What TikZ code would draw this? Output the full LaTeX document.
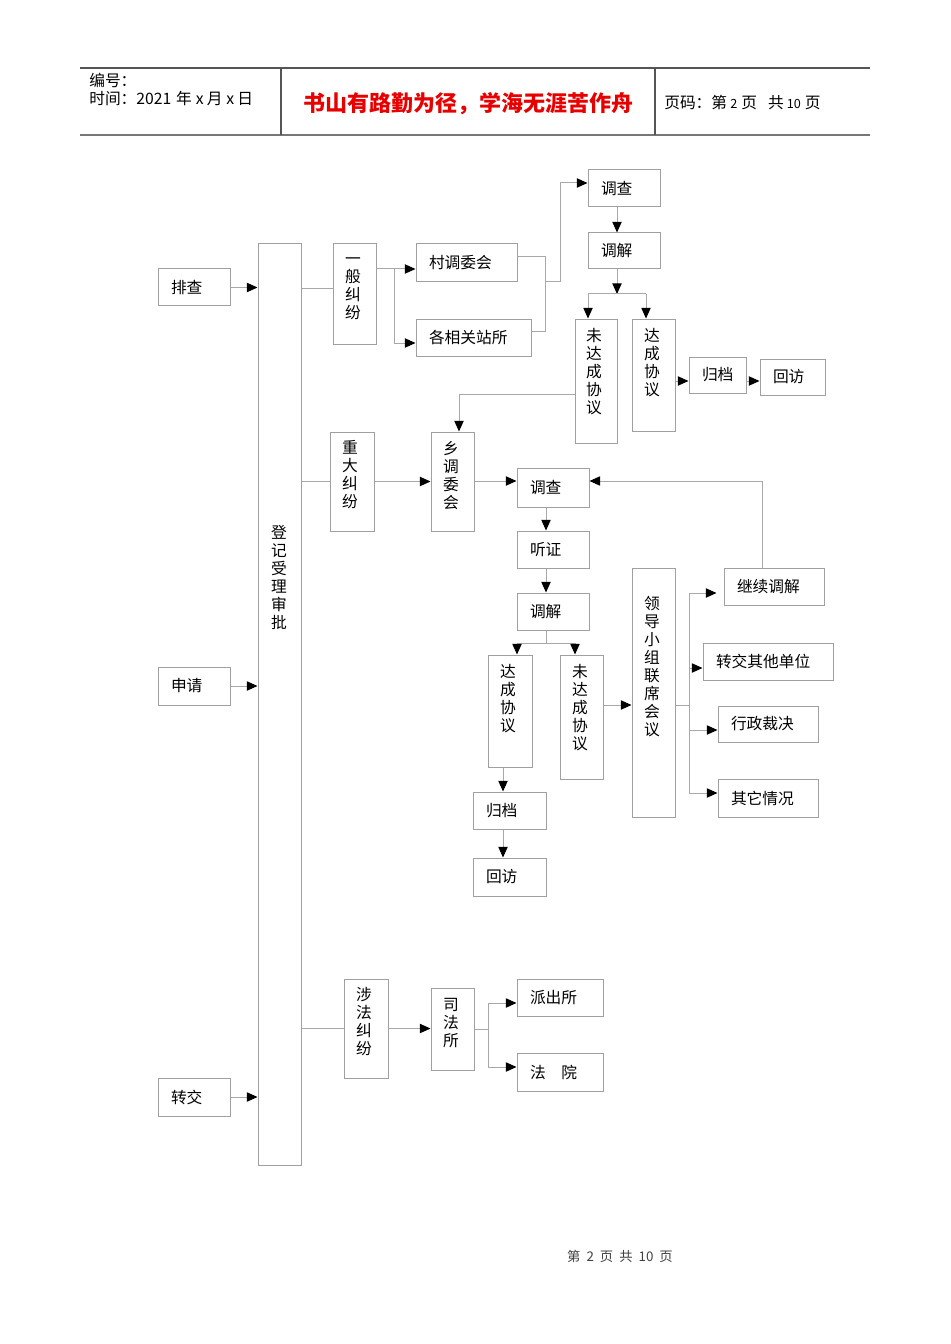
\documentclass[tikz,border=0pt]{standalone}
\usepackage{fontspec}
\setmainfont{Noto Sans CJK SC}
\usetikzlibrary{arrows.meta}
\definecolor{bxc}{HTML}{A0A0A0}
\definecolor{lnc}{HTML}{A8A8A8}
\definecolor{hdc}{HTML}{555555}
\definecolor{ttl}{HTML}{E60000}
\tikzset{
 bx/.style={draw=bxc, line width=0.75pt, inner xsep=9.75pt, inner ysep=0pt, align=left, font=\fontsize{11.8pt}{13.5pt}\selectfont},
 vb/.style={draw=bxc, line width=0.75pt, inner sep=0pt},
 vt/.style={inner sep=0pt, align=center, font=\fontsize{11.8pt}{13.5pt}\selectfont},
 ln/.style={draw=lnc, line width=0.75pt},
 arr/.style={ln, -{Triangle[length=8pt,width=7pt,color=black]}},
 hd/.style={inner sep=0pt, anchor=west, font=\fontsize{11.8pt}{13pt}\selectfont},
 hline/.style={draw=hdc, line width=1.1pt},
}
\newcommand\mkbox[6]{%
 \pgfmathsetmacro\bw{(#4-#2)*0.75}%
 \pgfmathsetmacro\bh{(#5-#3)*0.75}%
 \pgfmathsetmacro\tw{(#4-#2-26)*0.75}%
 \node[bx,minimum width=\bw pt,minimum height=\bh pt,text width=\tw pt] (#1) at ({(#2+#4)/2},{(#3+#5)/2}) {#6};}
\newcommand\mkvbox[5]{%
 \pgfmathsetmacro\bw{(#4-#2)*0.75}%
 \pgfmathsetmacro\bh{(#5-#3)*0.75}%
 \node[vb,minimum width=\bw pt,minimum height=\bh pt] (#1) at ({(#2+#4)/2},{(#3+#5)/2}) {};}
\newcommand\vtx[4]{\node[vt] (#1) at (#2,#3) {#4};}
\newcommand\sdig[1]{{\fontsize{9.5pt}{11pt}\selectfont #1}}
\begin{document}
\begin{tikzpicture}[x=0.75pt,y=-0.75pt]
\useasboundingbox (0,0) rectangle (950,1344);
% header
\draw[hline] (80,68) -- (870,68);
\draw[hline, draw=hdc!80] (80,135) -- (870,135);
\draw[hline] (281,68) -- (281,135);
\draw[hline] (655,68) -- (655,135);
\node[hd] (hnum) at (89,80) {编号：};
\node[hd] (htime) at (89,99) {时间：2021\hspace{0.3em}年\hspace{0.25em}x\hspace{0.2em}月\hspace{0.25em}x\hspace{0.2em}日};
\node[inner sep=0pt, text=ttl, font=\fontsize{16.5pt}{18pt}\selectfont\bfseries] (htitle) at (468,104) {书山有路勤为径，学海无涯苦作舟};
\node[hd] (hpage) at (664,103) {页码：第\hspace{0.2em}\sdig{2}\hspace{0.25em}页\hspace{0.7em}共\hspace{0.2em}\sdig{10}\hspace{0.25em}页};
% footer
\node[inner sep=0pt, text=black!75, font=\fontsize{10pt}{12pt}\selectfont] (foot) at (620,1256) {第\hspace{0.45em}2\hspace{0.45em}页\hspace{0.45em}共\hspace{0.45em}10\hspace{0.45em}页};

% left column
\mkbox{pc}{158}{269}{230}{306}{排查}
\mkbox{sq}{158}{667}{230}{705}{申请}
\mkbox{zj}{158}{1078}{230}{1116}{转交}
\mkvbox{dj}{258}{244}{301}{1165}
\vtx{djt}{279}{577}{登\\记\\受\\理\\审\\批}

% general disputes
\mkvbox{ybjf}{333}{244}{376}{344}
\vtx{ybjft}{353}{289}{一\\般\\纠\\纷}
\mkbox{cdw}{416}{244}{517}{282}{村调委会}
\mkbox{xgz}{416}{319}{531}{356}{各相关站所}
\mkbox{dc1}{588}{170}{660}{207}{调查}
\mkbox{tj1}{588}{233}{660}{269}{调解}
\mkvbox{wdc1}{575}{319}{617}{443}
\vtx{wdc1t}{594}{372}{未\\达\\成\\协\\议}
\mkvbox{dcxy1}{632}{319}{675}{431}
\vtx{dcxy1t}{652}{363}{达\\成\\协\\议}
\mkbox{gd1}{689}{357}{746}{393}{归档}
\mkbox{hf1}{760}{359}{825}{395}{回访}

% major disputes
\mkvbox{zdjf}{330}{432}{374}{531}
\vtx{zdjft}{350}{475}{重\\大\\纠\\纷}
\mkvbox{xtw}{431}{432}{474}{531}
\vtx{xtwt}{451}{476}{乡\\调\\委\\会}
\mkbox{dc2}{517}{468}{589}{507}{调查}
\mkbox{tz}{517}{531}{589}{568}{听证}
\mkbox{tj2}{517}{593}{589}{630}{调解}
\mkvbox{dcxy2}{488}{655}{532}{767}
\vtx{dcxy2t}{508}{699}{达\\成\\协\\议}
\mkvbox{wdc2}{560}{655}{603}{779}
\vtx{wdc2t}{580}{708}{未\\达\\成\\协\\议}
\mkvbox{ldxz}{632}{568}{675}{817}
\vtx{ldxzt}{652}{667}{领\\导\\小\\组\\联\\席\\会\\议}
\mkbox{jxtj}{724}{568}{824}{605}{继续调解}
\mkbox{zjqt}{703}{643}{833}{680}{转交其他单位}
\mkbox{xzcj}{718}{706}{818}{742}{行政裁决}
\mkbox{qtqk}{718}{779}{818}{817}{其它情况}
\mkbox{gd2}{473}{792}{546}{829}{归档}
\mkbox{hf2}{473}{858}{546}{896}{回访}

% legal disputes
\mkvbox{sfjf}{344}{979}{388}{1078}
\vtx{sfjft}{364}{1022}{涉\\法\\纠\\纷}
\mkvbox{sfs}{431}{988}{474}{1070}
\vtx{sfst}{451}{1023}{司\\法\\所}
\mkbox{pcs}{517}{979}{603}{1016}{派出所}
\mkbox{fy}{517}{1053}{603}{1091}{法\hspace{1em}院}

% junction coordinates
\coordinate (jA) at (394,269);
\coordinate (jB) at (394,343);
\coordinate (jC) at (545,257);
\coordinate (jD) at (545,331);
\coordinate (jE) at (545,282);
\coordinate (jF) at (560,282);
\coordinate (jG) at (560,183);
\coordinate (jH) at (617,294);
\coordinate (jI) at (588,294);
\coordinate (jJ) at (646,294);
\coordinate (jK) at (0,381);
\coordinate (jL) at (459,394);
\coordinate (jM) at (0,289);
\coordinate (jN) at (0,481);
\coordinate (jO) at (762,481);
\coordinate (jP) at (546,0);
\coordinate (jQ) at (546,643);
\coordinate (jR) at (517,643);
\coordinate (jS) at (575,643);
\coordinate (jT) at (0,705);
\coordinate (jU) at (689,705);
\coordinate (jV) at (689,593);
\coordinate (jW) at (689,793);
\coordinate (jX) at (689,668);
\coordinate (jY) at (689,730);
\coordinate (jZ) at (503,0);
\coordinate (ka) at (488,1029);
\coordinate (kb) at (488,1003);
\coordinate (kc) at (488,1067);

% connectors: left column
\draw[arr] (pc.east) -- (dj.west |- pc.east);
\draw[arr] (sq.east) -- (dj.west |- sq.east);
\draw[arr] (zj.east) -- (dj.west |- zj.east);
\draw[ln] (dj.east |- jM) -- (ybjf.west |- jM);
\draw[ln] (dj.east |- zdjf.west) -- (zdjf.west);
\draw[ln] (dj.east |- sfjf.west) -- (sfjf.west);

% general disputes
\draw[arr] (ybjf.east |- jA) -- (cdw.west |- jA);
\draw[arr] (jA) -- (jB) -- (xgz.west |- jB);
\draw[ln] (cdw.east |- jC) -- (jC) -- (jD) -- (xgz.east |- jD);
\draw[arr] (jE) -- (jF) -- (jG) -- (dc1.west |- jG);
\draw[arr] (dc1.south -| jH) -- (tj1.north -| jH);
\draw[arr] (tj1.south -| jH) -- (jH);
\draw[ln] (jI) -- (jJ);
\draw[arr] (jI) -- (wdc1.north -| jI);
\draw[arr] (jJ) -- (dcxy1.north -| jJ);
\draw[arr] (dcxy1.east |- jK) -- (gd1.west |- jK);
\draw[arr] (gd1.east |- jK) -- (hf1.west |- jK);
\draw[arr] (wdc1.west |- jL) -- (jL) -- (xtw.north -| jL);

% major disputes
\draw[arr] (zdjf.east) -- (xtw.west |- zdjf.east);
\draw[arr] (xtw.east |- jN) -- (dc2.west |- jN);
\draw[arr] (jxtj.north -| jO) -- (jO) -- (dc2.east |- jO);
\draw[arr] (dc2.south -| jP) -- (tz.north -| jP);
\draw[arr] (tz.south -| jP) -- (tj2.north -| jP);
\draw[ln] (tj2.south -| jQ) -- (jQ);
\draw[ln] (jR) -- (jS);
\draw[arr] (jR) -- (dcxy2.north -| jR);
\draw[arr] (jS) -- (wdc2.north -| jS);
\draw[arr] (wdc2.east |- jT) -- (ldxz.west |- jT);
\draw[ln] (ldxz.east |- jU) -- (jU);
\draw[ln] (jV) -- (jW);
\draw[arr, shorten >=5.25pt] (jV) -- (jxtj.west |- jV);
\draw[arr] (jX) -- (zjqt.west |- jX);
\draw[arr] (jY) -- (xzcj.west |- jY);
\draw[arr] (jW) -- (qtqk.west |- jW);
\draw[arr] (dcxy2.south -| jZ) -- (gd2.north -| jZ);
\draw[arr] (gd2.south -| jZ) -- (hf2.north -| jZ);

% legal disputes
\draw[arr] (sfjf.east) -- (sfs.west |- sfjf.east);
\draw[ln] (sfs.east |- ka) -- (ka);
\draw[ln] (kb) -- (kc);
\draw[arr] (kb) -- (pcs.west |- kb);
\draw[arr] (kc) -- (fy.west |- kc);
\end{tikzpicture}
\end{document}
